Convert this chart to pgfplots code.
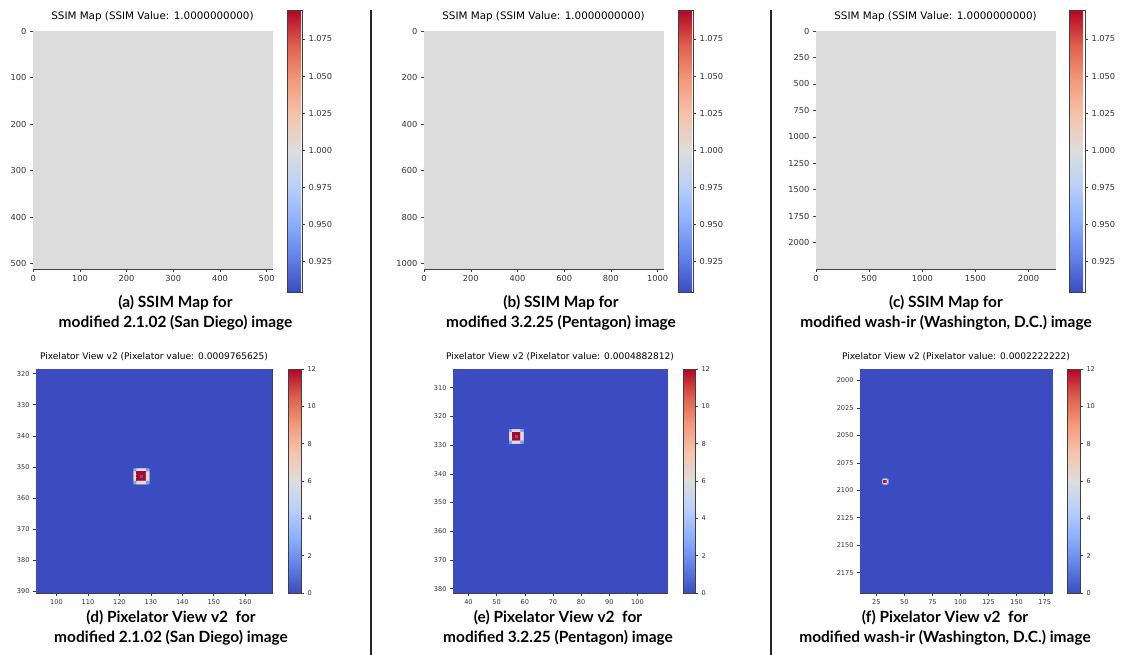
\documentclass[border=0pt]{standalone}
\usepackage{fontspec}
\usepackage{pgfplots}
\pgfplotsset{compat=1.18}
\newfontfamily\dejavu{DejaVu Sans}
\newfontfamily\capfont{Lato}
\pgfplotsset{
  colormap={coolwarm}{rgb255=(59,76,192) rgb255=(98,130,234) rgb255=(141,176,254) rgb255=(184,208,249) rgb255=(221,221,221) rgb255=(245,196,173) rgb255=(244,154,123) rgb255=(222,96,77) rgb255=(180,4,38)},
  mplbase/.style={scale only axis, axis line style={black!75, line width=0.6bp},
    tick align=outside, major tick length=3bp,
    every tick/.style={black!75, line width=0.6bp},
    /pgf/number format/assume math mode=true, /pgf/number format/1000 sep={}, scaled ticks=false},
  topax/.style={mplbase, width=239bp, height=238bp, y dir=reverse, tick pos=left,
    tick label style={font=\dejavu\fontsize{8.3}{10}\selectfont, text=black!80},
    title style={font=\dejavu\fontsize{10.4}{12}\selectfont, at={(0.5,1)}, anchor=base, yshift=5.5bp},
    point meta min=0.9045, point meta max=1.0945,
    colorbar, colorbar shift/.style={xshift=15bp, yshift=21bp},
    colorbar style={mplbase, width=15bp, height=282bp, at={(parent axis.north east)}, anchor=north west,
      ytick={0.925,0.95,0.975,1.0,1.025,1.05,1.075}, ytick pos=right, yticklabel pos=right,
      tick label style={font=\dejavu\fontsize{8.3}{10}\selectfont, text=black!80},
      yticklabel style={/pgf/number format/.cd, fixed, fixed zerofill, precision=3}}},
  botax/.style={mplbase, height=224bp, y dir=reverse, tick pos=left,
    tick label style={font=\dejavu\fontsize{6.6}{8}\selectfont, text=black!80},
    title style={font=\dejavu\fontsize{9.1}{11}\selectfont, at={(0.5,1)}, anchor=base, yshift=4bp},
    point meta min=0, point meta max=12,
    colorbar, colorbar shift/.style={xshift=16bp},
    colorbar style={mplbase, width=13bp, height=224bp, at={(parent axis.north east)}, anchor=north west,
      ytick={0,2,4,6,8,10,12}, ytick pos=right, yticklabel pos=right,
      tick label style={font=\dejavu\fontsize{6.6}{8}\selectfont, text=black!80}}},
  flatfill/.style={surf, shader=interp, mesh/cols=2, point meta=explicit}
}
\tikzset{capt/.style={align=center, font=\capfont\bfseries\fontsize{15.5}{20}\selectfont}}
\begin{document}
\begin{tikzpicture}[x=1bp,y=1bp]
\useasboundingbox (0,0) rectangle (1121,655);
% ---------- (a)
\begin{axis}[topax, at={(33bp,386bp)}, anchor=south west,
  xmin=-0.5, xmax=511.5, ymin=-0.5, ymax=511.5,
  xtick={0,100,200,300,400,500}, ytick={0,100,200,300,400,500},
  title={SSIM Map (SSIM Value: 1.0000000000)}]
\addplot[flatfill] coordinates {
 (-0.5,-0.5) [1] (511.5,-0.5) [1]
 (-0.5,511.5) [1] (511.5,511.5) [1]};
\end{axis}
% ---------- (b)
\begin{axis}[topax, at={(424bp,386bp)}, anchor=south west,
  xmin=-0.5, xmax=1023.5, ymin=-0.5, ymax=1023.5,
  xtick={0,200,400,600,800,1000}, ytick={0,200,400,600,800,1000},
  title={SSIM Map (SSIM Value: 1.0000000000)}]
\addplot[flatfill] coordinates {
 (-0.5,-0.5) [1] (1023.5,-0.5) [1]
 (-0.5,1023.5) [1] (1023.5,1023.5) [1]};
\end{axis}
% ---------- (c)
\begin{axis}[topax, at={(816bp,386bp)}, anchor=south west, colorbar shift/.style={xshift=14bp, yshift=21bp},
  colorbar style={width=16bp},
  xmin=-0.5, xmax=2249.5, ymin=-0.5, ymax=2249.5,
  xtick={0,500,1000,1500,2000}, ytick={0,250,500,750,1000,1250,1500,1750,2000},
  title={SSIM Map (SSIM Value: 1.0000000000)}]
\addplot[flatfill] coordinates {
 (-0.5,-0.5) [1] (2249.5,-0.5) [1]
 (-0.5,2249.5) [1] (2249.5,2249.5) [1]};
\end{axis}
% ---------- (d)
\begin{axis}[botax, width=236bp, at={(36bp,62bp)}, anchor=south west,
  xmin=93.5, xmax=168.5, ymin=318.5, ymax=390.5,
  xtick={100,110,...,160}, ytick={320,330,...,390},
  title={Pixelator View v2 (Pixelator value: 0.0009765625)}]
\addplot[flatfill] coordinates {
 (93.5,318.5) [0] (168.5,318.5) [0]
 (93.5,390.5) [0] (168.5,390.5) [0]};
\addplot[matrix plot*, mesh/cols=5, point meta=explicit] coordinates {
 (125,351) [2.5] (126,351) [6] (127,351) [6] (128,351) [6] (129,351) [2.5]
 (125,352) [6] (126,352) [12] (127,352) [12] (128,352) [12] (129,352) [6]
 (125,353) [6] (126,353) [12] (127,353) [0.5] (128,353) [12] (129,353) [6]
 (125,354) [6] (126,354) [12] (127,354) [12] (128,354) [12] (129,354) [6]
 (125,355) [2.5] (126,355) [6] (127,355) [6] (128,355) [6] (129,355) [2.5]};
\end{axis}
% ---------- (e)
\begin{axis}[botax, width=214bp, at={(453bp,62bp)}, anchor=south west,
  colorbar style={width=12bp},
  xmin=34.5, xmax=110.5, ymin=303.5, ymax=381.5,
  xtick={40,50,...,100}, ytick={310,320,...,380},
  title={Pixelator View v2 (Pixelator value: 0.0004882812)}]
\addplot[flatfill] coordinates {
 (34.5,303.5) [0] (110.5,303.5) [0]
 (34.5,381.5) [0] (110.5,381.5) [0]};
\addplot[matrix plot*, mesh/cols=5, point meta=explicit] coordinates {
 (55,325) [2.5] (56,325) [6] (57,325) [6] (58,325) [6] (59,325) [2.5]
 (55,326) [6] (56,326) [12] (57,326) [12] (58,326) [12] (59,326) [6]
 (55,327) [6] (56,327) [12] (57,327) [0.5] (58,327) [12] (59,327) [6]
 (55,328) [6] (56,328) [12] (57,328) [12] (58,328) [12] (59,328) [6]
 (55,329) [2.5] (56,329) [6] (57,329) [6] (58,329) [6] (59,329) [2.5]};
\end{axis}
% ---------- (f)
\begin{axis}[botax, width=192bp, at={(860bp,62bp)}, anchor=south west,
  colorbar shift/.style={xshift=15bp},
  xmin=10.5, xmax=181.5, ymin=1989.5, ymax=2193.5,
  xtick={25,50,...,175}, ytick={2000,2025,...,2175},
  title={Pixelator View v2 (Pixelator value: 0.0002222222)}]
\addplot[flatfill] coordinates {
 (10.5,1989.5) [0] (181.5,1989.5) [0]
 (10.5,2193.5) [0] (181.5,2193.5) [0]};
\addplot[matrix plot*, mesh/cols=5, point meta=explicit] coordinates {
 (31,2090) [2.5] (32,2090) [6] (33,2090) [6] (34,2090) [6] (35,2090) [2.5]
 (31,2091) [6] (32,2091) [12] (33,2091) [12] (34,2091) [12] (35,2091) [6]
 (31,2092) [6] (32,2092) [12] (33,2092) [0.5] (34,2092) [12] (35,2092) [6]
 (31,2093) [6] (32,2093) [12] (33,2093) [12] (34,2093) [12] (35,2093) [6]
 (31,2094) [2.5] (32,2094) [6] (33,2094) [6] (34,2094) [6] (35,2094) [2.5]};
\end{axis}
% separators
\draw[line width=1.6bp, black!85] (371,645) -- (371,0);
\draw[line width=1.6bp, black!85] (771,645) -- (771,0);
% captions
\node[capt] at (175.5,342) {(a) SSIM Map for\\modified 2.1.02 (San Diego) image};
\node[capt] at (561,342) {(b) SSIM Map for\\modified 3.2.25 (Pentagon) image};
\node[capt] at (946,342) {(c) SSIM Map for\\modified wash-ir (Washington, D.C.) image};
\node[capt] at (171,27) {(d) Pixelator View v2\ \ for\\modified 2.1.02 (San Diego) image};
\node[capt] at (558,27) {(e) Pixelator View v2\ \ for\\modified 3.2.25 (Pentagon) image};
\node[capt] at (945,27) {(f) Pixelator View v2\ \ for\\modified wash-ir (Washington, D.C.) image};
\end{tikzpicture}
\end{document}
